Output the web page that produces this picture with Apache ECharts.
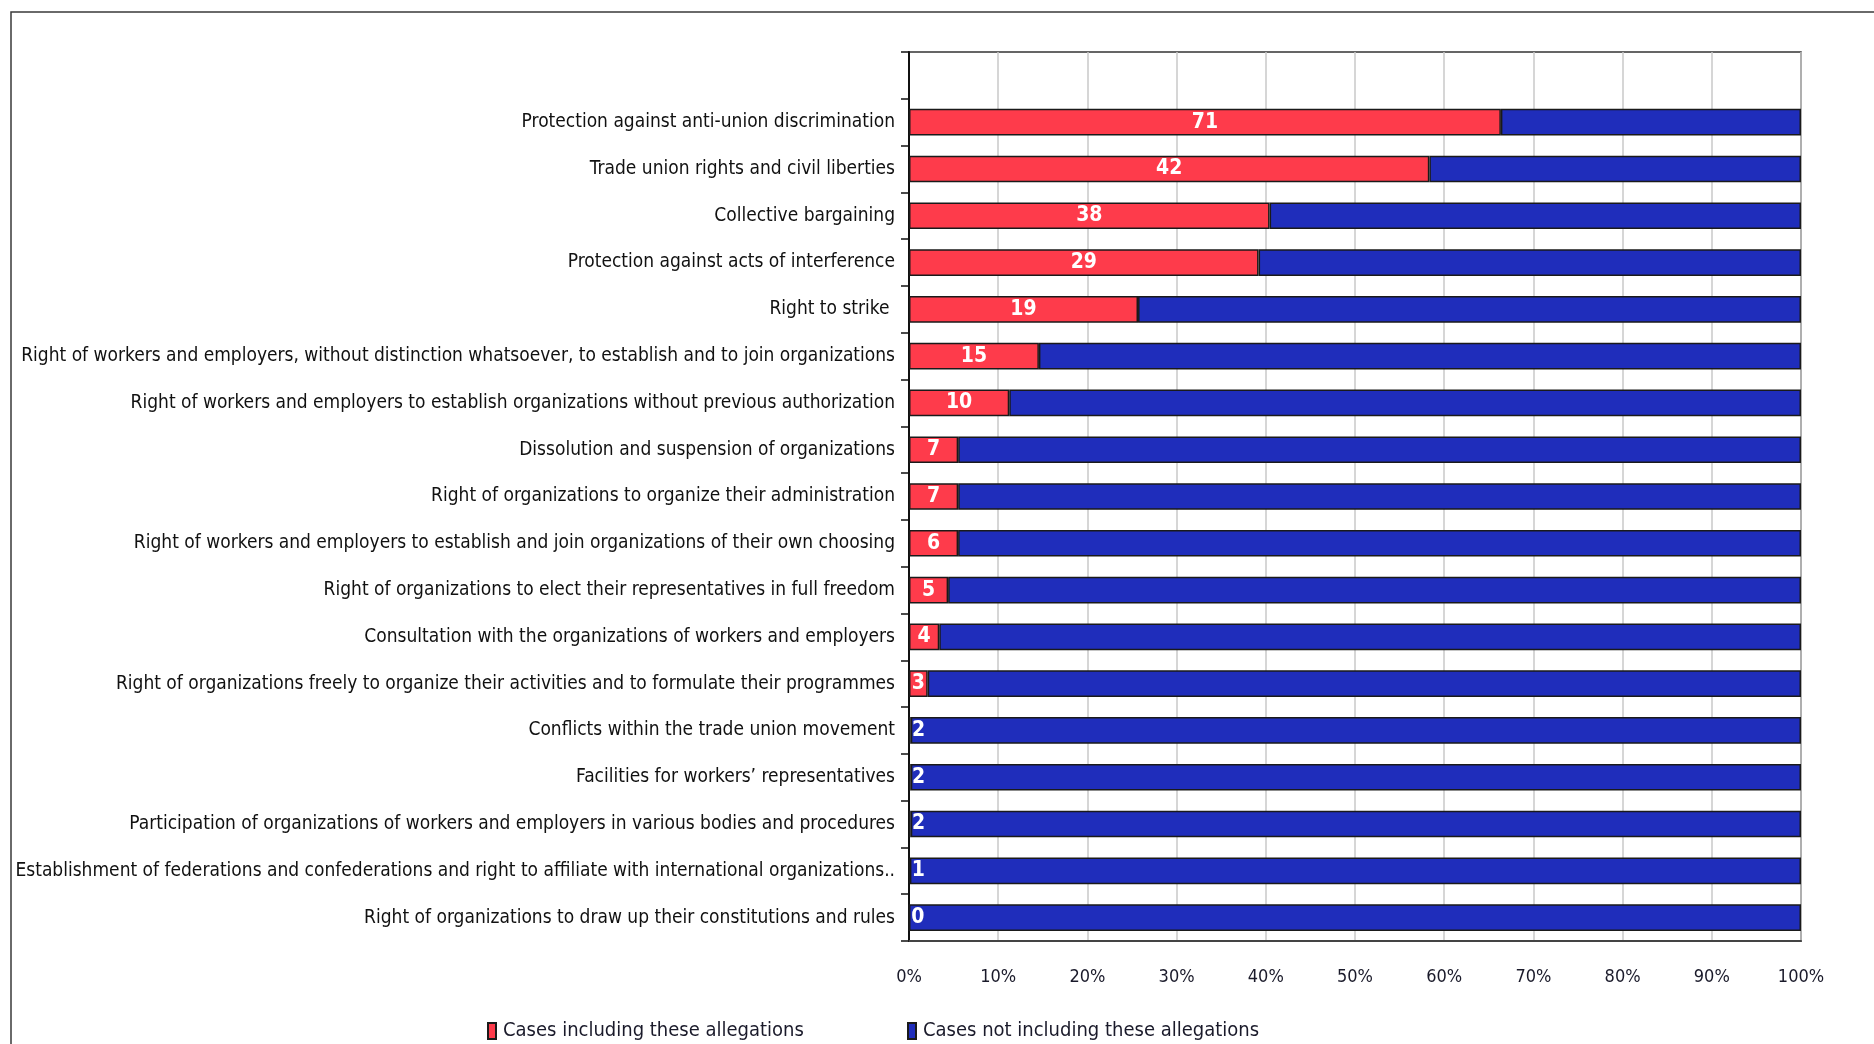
<!DOCTYPE html>
<html>
<head>
<meta charset="utf-8">
<style>
  html, body { margin: 0; padding: 0; background: #fff; }
  #chart { width: 1874px; height: 1044px; }
</style>
<script src="https://cdn.jsdelivr.net/npm/echarts@6/dist/echarts.min.js"></script>
</head>
<body>
<div id="chart"></div>
<script>
// Allegation categories, top to bottom (the first row is an empty spacer slot)
const categories = [
  '',
  'Protection against anti-union discrimination',
  'Trade union rights and civil liberties',
  'Collective bargaining',
  'Protection against acts of interference',
  'Right to strike ',
  'Right of workers and employers, without distinction whatsoever, to establish and to join organizations',
  'Right of workers and employers to establish organizations without previous authorization',
  'Dissolution and suspension of organizations',
  'Right of organizations to organize their administration',
  'Right of workers and employers to establish and join organizations of their own choosing',
  'Right of organizations to elect their representatives in full freedom',
  'Consultation with the organizations of workers and employers',
  'Right of organizations freely to organize their activities and to formulate their programmes',
  'Conflicts within the trade union movement',
  'Facilities for workers\u2019 representatives',
  'Participation of organizations of workers and employers in various bodies and procedures',
  'Establishment of federations and confederations and right to affiliate with international organizations..',
  'Right of organizations to draw up their constitutions and rules'
];

// Number of cases including each allegation (printed on the bars)
const casesIncluding = [null, 71, 42, 38, 29, 19, 15, 10, 7, 7, 6, 5, 4, 3, 2, 2, 2, 1, 0];
// Number of cases not including each allegation
const casesNotIncluding = [null, 36, 30, 56, 45, 55, 88, 79, 120, 120, 103, 109, 114, 140, 998, 998, 998, 999, 1000];

const xTicks = { min: 0, max: 100, step: 10 };

const seriesNames = ['Cases including these allegations', 'Cases not including these allegations'];

const FONT = "'Liberation Sans Narrow', 'DejaVu Sans Condensed', 'Arial Narrow', sans-serif";
const RED = '#fe3b4b';
const BLUE = '#1f2dbb';
const EDGE = '#1a1a1a';

// Share of each row (in %), so every bar spans the full 0-100% width
function share(part, other) {
  if (part == null) return '-';
  const total = part + other;
  return total > 0 ? (part / total) * 100 : 0;
}

const redData = casesIncluding.map((v, i) => {
  if (v == null) return '-';
  const pct = share(v, casesNotIncluding[i]);
  const item = { value: pct, count: v };
  if (pct < 2) {
    item.label = { position: 'insideLeft', distance: 3 };
  }
  return item;
});
const blueData = casesNotIncluding.map((v, i) => {
  if (v == null) return '-';
  return { value: share(v, casesIncluding[i]), count: v };
});

const chart = echarts.init(document.getElementById('chart'), null, { renderer: 'canvas' });

const legendText = { fontFamily: FONT, fontSize: 20, color: '#1a1a2a', padding: [0, 0, 0, 2] };

chart.setOption({
  backgroundColor: '#ffffff',
  animation: false,
  graphic: [{
    type: 'rect',
    shape: { x: 11, y: 12, width: 3000, height: 3000 },
    style: { fill: 'none', stroke: '#3a3a3a', lineWidth: 1.5 },
    z: 100
  }],
  grid: {
    left: 909, right: 73, top: 52, bottom: 103,
    outerBoundsMode: 'none',
    containLabel: false,
    show: true, borderColor: '#333', borderWidth: 1.5, backgroundColor: '#fff'
  },
  legend: [{
    data: [seriesNames[0]],
    left: 482, top: 1016,
    icon: 'rect', itemWidth: 8, itemHeight: 16, itemGap: 0,
    textStyle: legendText
  }, {
    data: [seriesNames[1]],
    left: 902, top: 1016,
    icon: 'rect', itemWidth: 8, itemHeight: 16, itemGap: 0,
    textStyle: legendText
  }],
  xAxis: {
    type: 'value',
    min: xTicks.min, max: xTicks.max, interval: xTicks.step,
    axisLine: { show: true, lineStyle: { color: '#444', width: 2 } },
    axisTick: { show: false },
    splitLine: { show: true, lineStyle: { color: '#c9c9c9', width: 1.5 } },
    axisLabel: {
      formatter: '{value}%', margin: 27,
      fontFamily: FONT, fontSize: 18, color: '#1a1a2a'
    }
  },
  yAxis: {
    type: 'category',
    inverse: true,
    data: categories,
    axisLine: { show: true, lineStyle: { color: '#111', width: 2 } },
    axisTick: { show: true, length: 8, lineStyle: { color: '#111', width: 1.5 } },
    splitLine: { show: false },
    axisLabel: {
      margin: 14, interval: 0,
      fontFamily: FONT, fontSize: 19, color: '#111'
    }
  },
  series: [{
    name: seriesNames[0],
    type: 'bar',
    stack: 'share',
    barWidth: '57%',
    data: redData,
    itemStyle: { color: RED, borderColor: EDGE, borderWidth: 1.5 },
    label: {
      show: true, position: 'inside',
      formatter: p => String(p.data.count),
      fontFamily: FONT, fontSize: 21, fontWeight: 'bold', color: '#fff'
    }
  }, {
    name: seriesNames[1],
    type: 'bar',
    stack: 'share',
    barWidth: '57%',
    data: blueData,
    itemStyle: { color: BLUE, borderColor: EDGE, borderWidth: 1.5 },
    label: { show: false }
  }]
});
</script>
</body>
</html>
